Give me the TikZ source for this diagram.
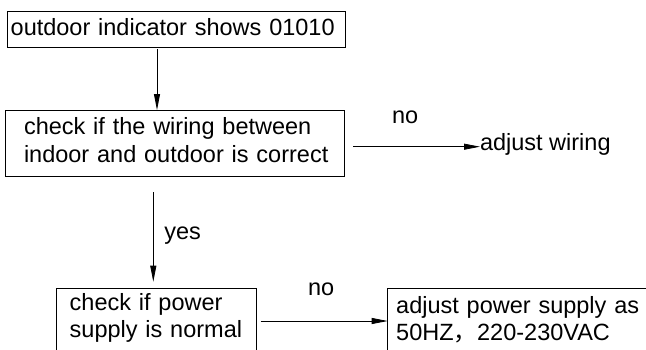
\documentclass[tikz,border=0pt]{standalone}
\usepackage{fontspec}
\setmainfont{Liberation Sans}
\newfontfamily\cjkfont{Noto Sans CJK SC}
\usetikzlibrary{arrows.meta,calc}
\begin{document}
\begin{tikzpicture}[x=1pt,y=-1pt,
  box/.style={draw=black, line width=0.8pt, inner ysep=0pt, outer sep=0pt, align=left, anchor=north west, font=\fontsize{23.5}{28}\selectfont},
  arr/.style={line width=0.8pt, -{Triangle[length=16pt,width=6pt]}},
  lbl/.style={inner sep=0pt, outer sep=0pt, font=\fontsize{23.5}{28}\selectfont}]
\useasboundingbox (0,0) rectangle (646,349);
\clip (0,0) rectangle (646,349);
% boxes
\node[box, inner xsep=3.4pt, text width=331.6pt, text height=24pt, text depth=12pt] (b1) at (7.3,11) {\mbox{outdoor indicator shows 01010}};
\node[box, inner xsep=18.5pt, text width=301.5pt, text height=24pt, text depth=42pt, font=\fontsize{23.5}{28.5}\selectfont] (b2) at (5.5,110) {\mbox{check if the wiring between}\\\mbox{indoor and outdoor is correct}};
\node[lbl, anchor=base west] (aw) at (480,150) {adjust wiring};
\node[box, inner xsep=13pt, text width=174pt, text height=22pt, text depth=60pt, font=\fontsize{23.5}{27}\selectfont] (b3) at (56.7,288) {\mbox{check if power}\\\mbox{supply is normal}};
\node[box, inner xsep=8.5pt, text width=275pt, text height=24.7pt, text depth=57pt, font=\fontsize{23.5}{27.7}\selectfont] (b4) at (387.7,288.3) {\mbox{adjust power supply as}\\\mbox{50HZ{\cjkfont ，}220-230VAC}};
% connectors
\coordinate (a1s) at ($(b1.south west)+(149.7,2)$);
\draw[arr] (a1s) -- (a1s |- b2.north);
\coordinate (a2s) at ($(b2.north east)+(9,36.7)$);
\draw[arr] (a2s) -- (a2s -| aw.west) node[lbl, pos=0.41, anchor=base, yshift=23.7pt] {no};
\coordinate (a3s) at ($(b2.south west)+(147.8,16.3)$);
\coordinate (a3e) at ($(a3s |- b3.north)+(0,-6.3)$);
\draw[arr] (a3s) -- (a3e) node[lbl, pos=0.53, anchor=base west, xshift=11pt] {yes};
\coordinate (a4s) at ($(b3.north east)+(4,33)$);
\draw[arr] (a4s) -- (a4s -| b4.west) node[lbl, pos=0.476, anchor=base, yshift=25.3pt] {no};
\end{tikzpicture}
\end{document}
